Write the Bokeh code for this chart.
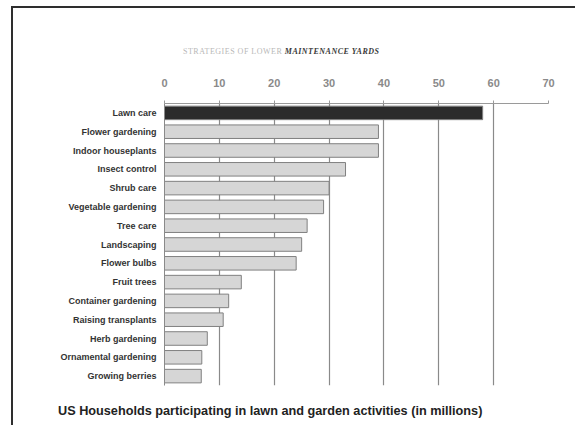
from bokeh.plotting import figure
from bokeh.models import ColumnDataSource, FixedTicker, FactorRange, Div
from bokeh.layouts import column
from bokeh.embed import file_html
from bokeh.resources import INLINE

categories = ["Lawn care", "Flower gardening", "Indoor houseplants", "Insect control",
              "Shrub care", "Vegetable gardening", "Tree care", "Landscaping",
              "Flower bulbs", "Fruit trees", "Container gardening", "Raising transplants",
              "Herb gardening", "Ornamental gardening", "Growing berries"]
households = [58, 39, 39, 33, 30, 29, 26, 25, 24, 14, 11.7, 10.7, 7.8, 6.8, 6.7]
tick_values = [0, 10, 20, 30, 40, 50, 60, 70]
title_light = "STRATEGIES OF LOWER"
title_dark = "MAINTENANCE YARDS"
caption = "US Households participating in lawn and garden activities (in millions)"
fills = ["#2b2b2b"] + ["#d6d6d6"] * (len(categories) - 1)

p = figure(width=564, height=343, output_backend="svg", toolbar_location=None,
           x_range=(0, 70), y_range=FactorRange(*reversed(categories)),
           x_axis_location="above",
           min_border_left=151, min_border_right=29, min_border_top=43, min_border_bottom=18)
p.outline_line_color = None
p.background_fill_color = "white"
p.border_fill_color = "white"

src = ColumnDataSource(dict(cat=categories, val=households, fill=fills))
p.hbar(y="cat", right="val", left=0, height=0.72, source=src,
       fill_color="fill", line_color="#808080", line_width=1)

xa = p.xaxis[0]
xa.ticker = FixedTicker(ticks=tick_values)
xa.axis_line_color = "#9a9a9a"
xa.major_tick_line_color = "#9a9a9a"
xa.major_tick_out = 3
xa.major_tick_in = 0
xa.minor_tick_line_color = None
xa.major_label_text_font = "Liberation Sans"
xa.major_label_text_font_style = "bold"
xa.major_label_text_font_size = "11px"
xa.major_label_text_color = "#8a8a8a"
xa.major_label_standoff = 14

ya = p.yaxis[0]
ya.axis_line_color = "#8a8a8a"
ya.major_tick_line_color = None
ya.minor_tick_line_color = None
ya.major_label_text_font = "Liberation Sans"
ya.major_label_text_font_style = "bold"
ya.major_label_text_font_size = "9px"
ya.major_label_text_color = "#333333"
ya.major_label_standoff = 2

p.xgrid.grid_line_color = "#8a8a8a"
p.xgrid.grid_line_width = 1.2
p.xgrid.ticker = FixedTicker(ticks=tick_values)
p.ygrid.grid_line_color = None

top = Div(width=564, height=52, margin=0,
          text=("<div style=\"position:relative; left:170px; top:34px; white-space:nowrap; "
                "font-family:'Liberation Serif'; font-size:8px; letter-spacing:0.5px; line-height:10px;\">"
                f"<span style=\"color:#b8b8b8\">{title_light} </span>"
                f"<span style=\"color:#3a3a3a; font-weight:bold; font-style:italic\">{title_dark}</span>"
                "</div>"))
bottom = Div(width=564, height=24, margin=0,
             text=("<div style=\"position:relative; left:45px; top:0px; white-space:nowrap; "
                   "font-family:'Liberation Sans'; font-weight:bold; font-size:12.7px; "
                   f"line-height:14px; color:#222222;\">{caption}</div>"))

layout = column(top, p, bottom, spacing=0,
                styles={"box-shadow": "-2px -2px 0 0 #2e2e2e", "overflow": "hidden",
                        "margin-left": "13px", "margin-top": "8px"})

open("out.html", "w").write(file_html(layout, INLINE))
